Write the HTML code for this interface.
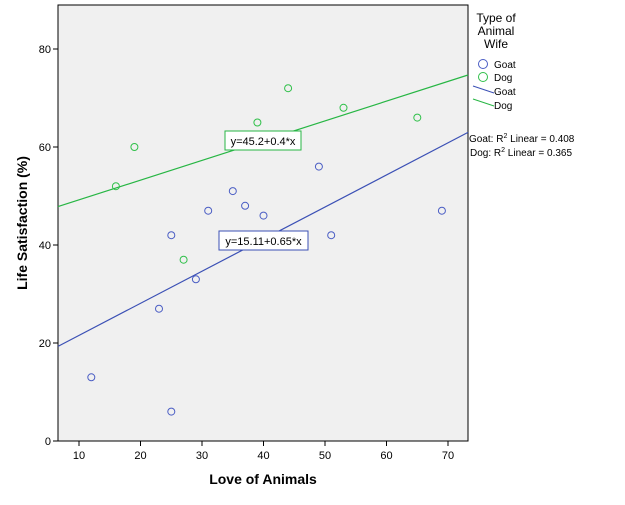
<!DOCTYPE html>
<html><head><style>body{margin:0;background:#fff}svg{font-family:"Liberation Sans",Arial,sans-serif}</style></head>
<body>
<svg width="625" height="500" viewBox="0 0 625 500">
<rect x="58" y="5" width="410" height="436" fill="#f0f0f0" stroke="#000" stroke-width="1"/>
<g stroke="#000">
<line x1="53" y1="441" x2="58" y2="441"/><line x1="53" y1="343" x2="58" y2="343"/><line x1="53" y1="245" x2="58" y2="245"/><line x1="53" y1="147" x2="58" y2="147"/><line x1="53" y1="49" x2="58" y2="49"/>
<line x1="79" y1="441" x2="79" y2="446"/><line x1="140.5" y1="441" x2="140.5" y2="446"/><line x1="202" y1="441" x2="202" y2="446"/><line x1="263.5" y1="441" x2="263.5" y2="446"/><line x1="325" y1="441" x2="325" y2="446"/><line x1="386.5" y1="441" x2="386.5" y2="446"/><line x1="448" y1="441" x2="448" y2="446"/>
</g>
<g font-size="11" text-anchor="end">
<text x="51" y="445">0</text><text x="51" y="347">20</text><text x="51" y="249">40</text><text x="51" y="151">60</text><text x="51" y="53">80</text>
</g>
<g font-size="11" text-anchor="middle">
<text x="79" y="459">10</text><text x="140.5" y="459">20</text><text x="202" y="459">30</text><text x="263.5" y="459">40</text><text x="325" y="459">50</text><text x="386.5" y="459">60</text><text x="448" y="459">70</text>
</g>
<text x="263" y="484" font-size="14" font-weight="bold" text-anchor="middle">Love of Animals</text>
<text transform="translate(27,223) rotate(-90)" font-size="14" font-weight="bold" text-anchor="middle">Life Satisfaction (%)</text>
<line x1="58" y1="346.4" x2="468" y2="132.4" stroke="#3b50b5" stroke-width="1.2"/>
<line x1="58" y1="206.6" x2="468" y2="75.0" stroke="#27b644" stroke-width="1.2"/>
<g fill="none" stroke="#4a5dc4" stroke-width="1">
<circle cx="91.3" cy="377.3" r="3.5"/><circle cx="159" cy="308.7" r="3.5"/><circle cx="171.3" cy="235.2" r="3.5"/><circle cx="171.3" cy="411.6" r="3.5"/><circle cx="195.9" cy="279.3" r="3.5"/><circle cx="208.2" cy="210.7" r="3.5"/><circle cx="232.8" cy="191.1" r="3.5"/><circle cx="245.1" cy="205.8" r="3.5"/><circle cx="263.5" cy="215.6" r="3.5"/><circle cx="318.9" cy="166.6" r="3.5"/><circle cx="331.2" cy="235.2" r="3.5"/><circle cx="441.9" cy="210.7" r="3.5"/>
</g>
<g fill="none" stroke="#30c04a" stroke-width="1">
<circle cx="115.9" cy="186.2" r="3.5"/><circle cx="134.4" cy="147" r="3.5"/><circle cx="183.6" cy="259.7" r="3.5"/><circle cx="257.4" cy="122.5" r="3.5"/><circle cx="288.1" cy="88.2" r="3.5"/><circle cx="343.5" cy="107.8" r="3.5"/><circle cx="417.3" cy="117.6" r="3.5"/>
</g>
<rect x="225" y="131" width="76" height="19" fill="#fff" stroke="#27b644"/>
<text x="263" y="145" font-size="11" text-anchor="middle">y=45.2+0.4*x</text>
<rect x="219" y="231" width="89" height="19" fill="#fff" stroke="#3b50b5"/>
<text x="263.5" y="245" font-size="11" text-anchor="middle">y=15.11+0.65*x</text>
<g font-size="12" text-anchor="middle">
<text x="496" y="22">Type of</text><text x="496" y="35">Animal</text><text x="496" y="48">Wife</text>
</g>
<circle cx="483" cy="64" r="4.5" fill="none" stroke="#4a5dc4"/>
<circle cx="483" cy="77" r="4.5" fill="none" stroke="#30c04a"/>
<line x1="473" y1="86" x2="494" y2="93" stroke="#3b50b5"/>
<line x1="473" y1="99" x2="494" y2="106" stroke="#27b644"/>
<g font-size="10">
<text x="494" y="68">Goat</text><text x="494" y="81">Dog</text><text x="494" y="95">Goat</text><text x="494" y="109">Dog</text>
<text x="469" y="142">Goat: R<tspan font-size="7" dy="-4">2</tspan><tspan dy="4"> Linear = 0.408</tspan></text>
<text x="470" y="156">Dog: R<tspan font-size="7" dy="-4">2</tspan><tspan dy="4"> Linear = 0.365</tspan></text>
</g>
</svg>
</body></html>
